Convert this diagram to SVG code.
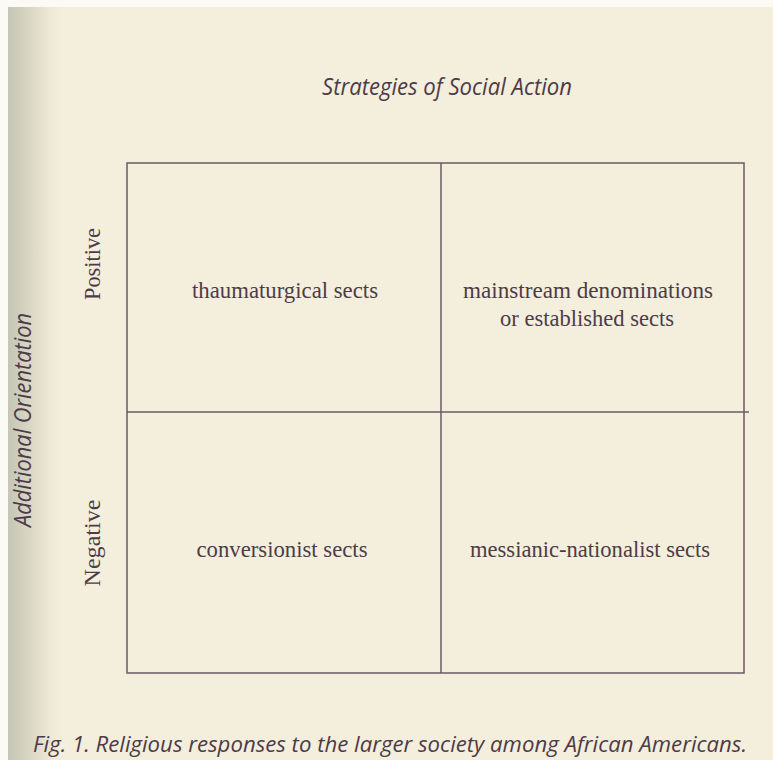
<svg xmlns="http://www.w3.org/2000/svg" width="773" height="760" viewBox="0 0 773 760">
  <defs>
    <linearGradient id="spine" x1="0" y1="0" x2="1" y2="0">
      <stop offset="0" stop-color="#c4c6b6"/>
      <stop offset="0.5" stop-color="#e2ddca"/>
      <stop offset="1" stop-color="#f4eedc" stop-opacity="0"/>
    </linearGradient>
    <style>
      .serif { font-family: "Liberation Serif", "Times New Roman", serif; font-size: 23px; fill: #4d3c48; }
      .ital { font-family: "Open Sans", "Noto Sans", sans-serif; font-style: italic; fill: #4d3c48; }
      .line { stroke: #6b5a66; stroke-width: 1.5; fill: none; }
    </style>
  </defs>
  <rect x="0" y="0" width="773" height="760" fill="#f4eedc"/>
  <rect x="8" y="7" width="60" height="753" fill="url(#spine)"/>
  <rect x="0" y="0" width="773" height="7" fill="#fbfaf5"/>
  <rect x="0" y="0" width="8" height="760" fill="#fbfaf5"/>

  <g id="connectors">
    <rect class="line" x="127" y="163" width="617" height="510"/>
    <line class="line" x1="441" y1="163" x2="441" y2="673"/>
    <line class="line" x1="127" y1="412" x2="749" y2="412"/>
  </g>

  <g id="title">
    <text class="ital" x="447" y="95" font-size="23" text-anchor="middle" textLength="250" lengthAdjust="spacingAndGlyphs">Strategies of Social Action</text>
  </g>

  <g id="axis-y">
    <text class="ital" transform="translate(31,420) rotate(-90)" font-size="23" text-anchor="middle" textLength="214" lengthAdjust="spacingAndGlyphs">Additional Orientation</text>
  </g>

  <g id="positive">
    <text class="serif" transform="translate(100,264) rotate(-90)" text-anchor="middle" textLength="72" lengthAdjust="spacingAndGlyphs">Positive</text>
  </g>
  <g id="negative">
    <text class="serif" transform="translate(100,543) rotate(-90)" text-anchor="middle" textLength="87" lengthAdjust="spacingAndGlyphs">Negative</text>
  </g>

  <g id="thaumaturgical">
    <text class="serif" x="285" y="298" text-anchor="middle" textLength="186" lengthAdjust="spacingAndGlyphs">thaumaturgical sects</text>
  </g>
  <g id="mainstream">
    <text class="serif" x="588" y="298" text-anchor="middle" textLength="250" lengthAdjust="spacingAndGlyphs">mainstream denominations</text>
    <text class="serif" x="587" y="326" text-anchor="middle" textLength="174" lengthAdjust="spacingAndGlyphs">or established sects</text>
  </g>
  <g id="conversionist">
    <text class="serif" x="282" y="557" text-anchor="middle" textLength="171" lengthAdjust="spacingAndGlyphs">conversionist sects</text>
  </g>
  <g id="messianic">
    <text class="serif" x="590" y="557" text-anchor="middle" textLength="240" lengthAdjust="spacingAndGlyphs">messianic-nationalist sects</text>
  </g>

  <g id="caption">
    <text class="ital" x="33" y="752" font-size="22" textLength="714" lengthAdjust="spacingAndGlyphs">Fig. 1. Religious responses to the larger society among African Americans.</text>
  </g>
</svg>
